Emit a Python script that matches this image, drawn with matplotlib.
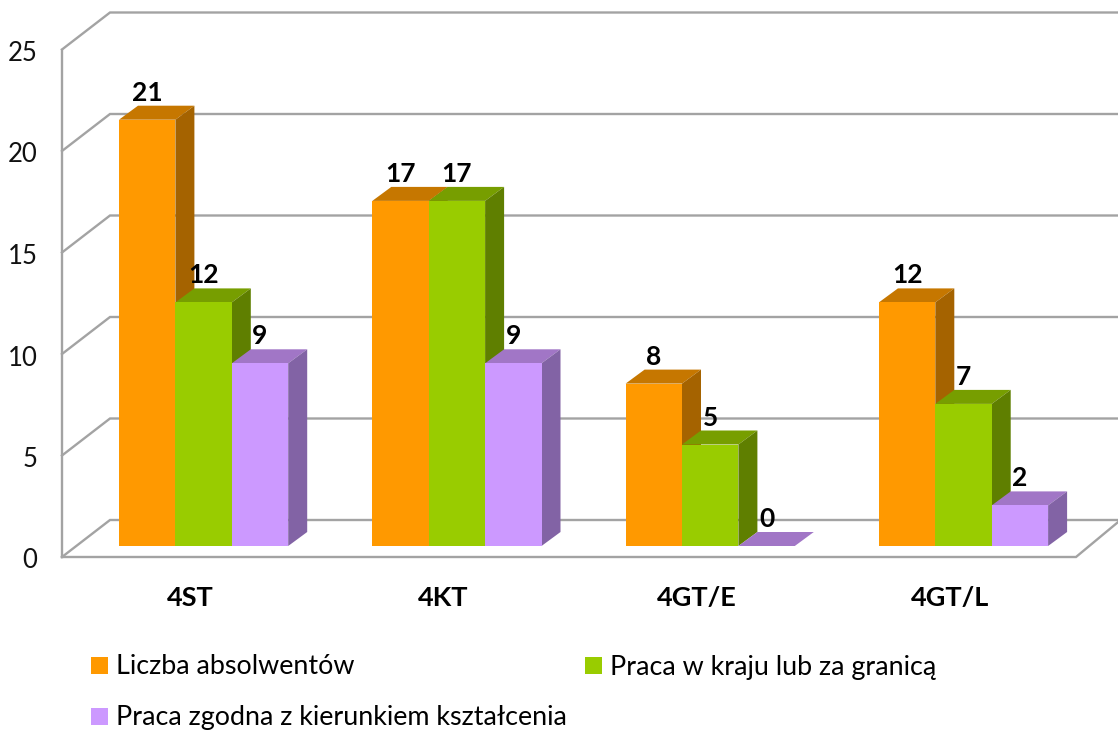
import matplotlib; matplotlib.use("Agg")
import matplotlib.pyplot as plt
from matplotlib.patches import Polygon, Rectangle

plt.rcParams["font.family"]="Lato"

categories=["4ST","4KT","4GT/E","4GT/L"]
absolwenci=[21,17,8,12]
praca=[12,17,5,7]
zgodna=[9,9,0,2]
series_names=["Liczba absolwentów","Praca w kraju lub za granicą","Praca zgodna z kierunkiem kształcenia"]
y_ticks=[0,5,10,15,20,25]

W,H=1118,731
X0=119; STEP=253.3; Y0=546; UNIT=20.3     # pixel position of first bar / value 0, pixels per value
BW=56.4/STEP; DX=19/STEP; DY=14/UNIT
FRONT=-11/UNIT; BACK=26/UNIT              # floor front and back edge, in value units
GRID="#A3A3A3"
COLS=[("#FF9900","#C67700","#A56300"),("#99CC00","#779E00","#5F7F00"),("#CC99FF","#A176C6","#8263A5")]

def xp(px): return (px-X0)/STEP
def yp(py): return (Y0-py)/UNIT

fig=plt.figure(figsize=(W/100,H/100),dpi=100)
ax=fig.add_axes([0,0,1,1])
ax.set_xlim(xp(0),xp(W)); ax.set_ylim(yp(H),yp(0)); ax.axis("off")

# walls
xl,xb,xr=xp(62),xp(110),xp(1076)
for v in y_ticks:
    ax.plot([xl,xb,xp(W+5)],[v+FRONT,v+BACK,v+BACK],color=GRID,lw=1.7,solid_joinstyle="miter",zorder=1)
    ax.text(xp(37.5),v+FRONT-4/UNIT,str(v),ha="right",va="center",fontsize=18.5,color="#111111")
ax.plot([xl,xl],[FRONT,25+FRONT],color=GRID,lw=1.7,zorder=1)
ax.plot([xl,xr,xp(W+5)],[FRONT,FRONT,BACK+0.1],color=GRID,lw=1.7,solid_joinstyle="miter",zorder=1)

# 3d bars, left to right so the next front hides the previous side
for i,vals in enumerate([absolwenci,praca,zgodna]):
    for j,v in enumerate(vals):
        x=j+i*BW
        front,top,side=COLS[i]
        z=2+j+i*0.1
        ax.add_patch(Polygon([(x,v),(x+BW,v),(x+BW+DX,v+DY),(x+DX,v+DY)],fc=top,ec="none",zorder=z))
        ax.add_patch(Polygon([(x+BW,0),(x+BW+DX,DY),(x+BW+DX,v+DY),(x+BW,v)],fc=side,ec="none",zorder=z))
        ax.bar(x,v,BW,align="edge",color=front,zorder=z+0.05)
        ax.text(x+BW/2,v+27/UNIT,str(v),ha="center",va="center",fontsize=19,fontweight="bold",color="black",zorder=20)

for j,c in enumerate(categories):
    ax.text(j+71/STEP,yp(598),c,ha="center",va="center",fontsize=19.5,fontweight="bold",color="black")

# legend
leg=[(91,665,0),(585,665,1),(91,716,2)]
for px,py,i in leg:
    ax.add_patch(Rectangle((xp(px),yp(py+8.5)),17/STEP,17/UNIT,fc=COLS[i][0],ec="none"))
    ax.text(xp(px+25),yp(py+2),series_names[i],ha="left",va="center",fontsize=19.4,color="black")

fig.savefig("out.png",dpi=100)
